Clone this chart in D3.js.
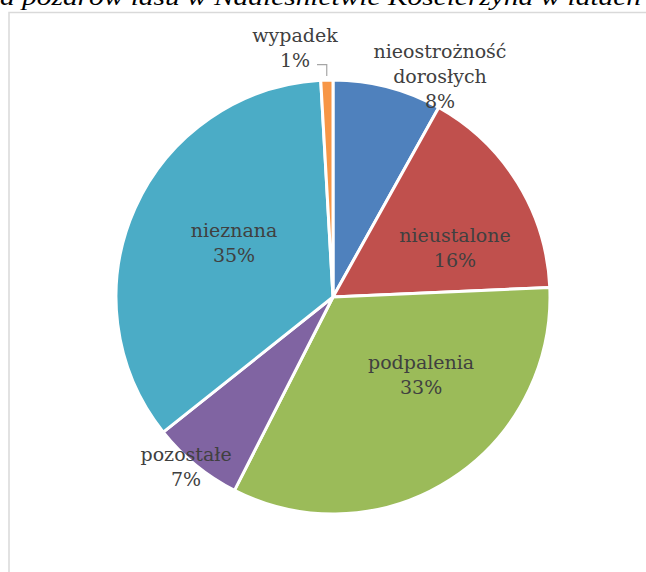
<!DOCTYPE html>
<html><head><meta charset="utf-8">
<script src="https://cdn.jsdelivr.net/npm/d3@7"></script>
<style>html,body{margin:0;padding:0;background:#fff;overflow:hidden}</style>
</head><body>
<svg id="c" width="646" height="572"></svg>
<script>
// Data
const categories = ["nieostrożność dorosłych", "nieustalone", "podpalenia", "pozostałe", "nieznana", "wypadek"];
const values = [8.1, 16.2, 33.2, 6.8, 34.8, 0.9];
const labelLines = [["nieostrożność", "dorosłych", "8%"], ["nieustalone", "16%"], ["podpalenia", "33%"], ["pozostałe", "7%"], ["nieznana", "35%"], ["wypadek", "1%"]];
const colors = ["#4F81BD", "#C0504D", "#9BBB59", "#8064A2", "#4BACC6", "#F79646"];
const titleText = "a pożarów lasu w Nadleśnictwie Kościerzyna w latach";

// Layout
const W = 646, H = 572;
const cx = 333, cy = 297, R = 217;
// label block centre offsets, as fractions of radius
const labelPos = [[0.493, -1.014], [0.562, -0.223], [0.406, 0.362], [-0.677, 0.788], [-0.456, -0.246], [-0.175, -1.145]];

const svg = d3.select("#c");

// title (cut off at top)
svg.append("text").attr("x", 0).attr("y", 5)
  .attr("font-family", "'Liberation Serif', serif").attr("font-style", "italic")
  .attr("font-size", 24).attr("fill", "#000")
  .attr("textLength", 641).attr("lengthAdjust", "spacingAndGlyphs")
  .text(titleText);

// frame
svg.append("path").attr("d", `M9,${H} V12.5 H${W}`).attr("fill", "none")
  .attr("stroke", "#d9d9d9").attr("stroke-width", 1.5);

const pie = d3.pie().sort(null).value(d => d).startAngle(0).endAngle(2 * Math.PI);
const arcs = pie(values);
const arc = d3.arc().innerRadius(0).outerRadius(R);

const g = svg.append("g").attr("transform", `translate(${cx},${cy})`);
g.selectAll("path.slice").data(arcs).join("path").attr("class", "slice")
  .attr("d", arc).attr("fill", (d, i) => colors[i])
  .attr("stroke", "#fff").attr("stroke-width", 3).attr("stroke-linejoin", "miter");

// labels
const lineH = 25;
labelLines.forEach((lines, i) => {
  const x = labelPos[i][0] * R, y = labelPos[i][1] * R;
  const t = g.append("text").attr("text-anchor", "middle")
    .attr("font-family", "'DejaVu Serif', serif").attr("font-size", 19)
    .attr("fill", "#404040");
  const n = lines.length;
  lines.forEach((l, k) => {
    t.append("tspan").attr("x", x).attr("y", y + (k - (n - 1) / 2) * lineH + 6).text(l);
  });
});

// leader line for the small slice
const small = arcs[5];
const mid = (small.startAngle + small.endAngle) / 2;
const ex = Math.sin(mid) * (R + 4), ey = -Math.cos(mid) * (R + 4);
const lx = labelPos[5][0] * R, ly = labelPos[5][1] * R;
g.append("path").attr("d", `M${lx + 22},${ly + 16} H${ex} V${ey}`)
  .attr("fill", "none").attr("stroke", "#a6a6a6").attr("stroke-width", 1.2);
</script>
</body></html>
